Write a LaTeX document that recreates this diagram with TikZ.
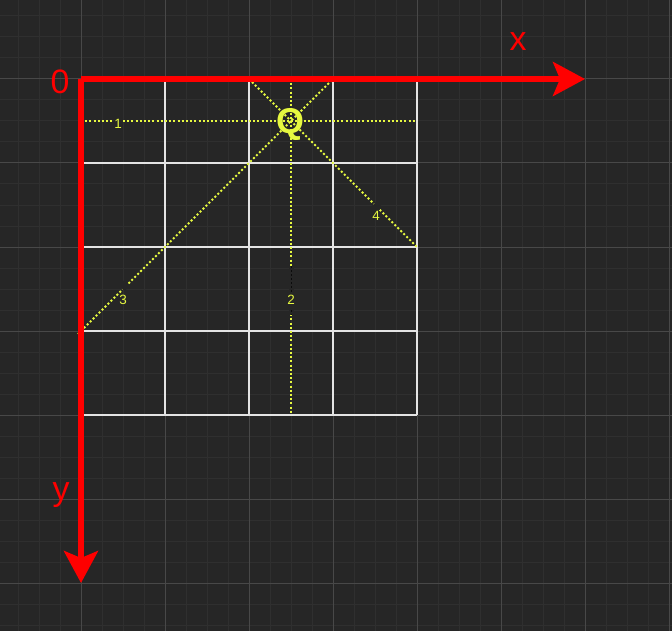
\documentclass[tikz,border=0pt]{standalone}
\usepackage{fontspec}
\setmainfont{Liberation Sans}
\usetikzlibrary{arrows.meta}
\definecolor{bg}{HTML}{262626}
\definecolor{minorg}{HTML}{2F2F2F}
\definecolor{majorg}{HTML}{484848}
\definecolor{cellw}{HTML}{E4E4E4}
\definecolor{axred}{HTML}{FF0000}
\definecolor{ylw}{HTML}{E6F840}
\tikzset{
  minorline/.style={draw=minorg, line width=1bp},
  majorline/.style={draw=majorg, line width=1bp},
  cellline/.style={draw=cellw, line width=2bp},
  axis/.style={draw=axred, line width=5.5bp, -{Stealth[length=32bp, width=34bp, inset=7bp]}},
  axlabel/.style={text=axred, font=\fontsize{34}{34}\selectfont, inner sep=0pt},
  dotline/.style={draw=ylw, line width=2bp, dash pattern=on 2bp off 2.2bp},
  gapnode/.style={fill=bg, inner sep=0pt, minimum size=#1},
  numlabel/.style={text=ylw, font=\fontsize{13.5}{13.5}\selectfont, inner sep=0pt},
}
\begin{document}
\begin{tikzpicture}[x=1bp, y=-1bp]
\fill[bg] (0,0) rectangle (672,631);
\useasboundingbox (0,0) rectangle (672,631);
% minor grid
\foreach \i in {-3,...,28} {
  \draw[minorline] (81+21*\i,0) -- (81+21*\i,631);
  \draw[minorline] (0,79+21*\i) -- (672,79+21*\i);
}
% major grid
\foreach \i in {-1,...,7} {
  \draw[majorline] (81+84*\i,0) -- (81+84*\i,631);
  \draw[majorline] (0,79+84*\i) -- (672,79+84*\i);
}
% white 4x4 grid
\foreach \i in {0,...,4} {
  \draw[cellline] (81+84*\i,79) -- (81+84*\i,415);
  \draw[cellline] (81,79+84*\i) -- (417,79+84*\i);
}
% named points
\coordinate (O) at (81,79);
\coordinate (Xend) at (585,79);
\coordinate (Yend) at (81,583);
\coordinate (Q) at (291,121);
\coordinate (L1a) at (81,121);  \coordinate (L1b) at (417,121);
\coordinate (L2a) at (291,79);  \coordinate (L2b) at (291,415);
\coordinate (L3a) at (78,334);  \coordinate (L3b) at (333,79);
\coordinate (L4a) at (249,79);  \coordinate (L4b) at (417,247);
% Q
\node[text=ylw, font=\fontsize{36}{36}\bfseries\selectfont, inner sep=0pt] (Qlbl) at (290,124.5) {Q};
% yellow dotted lines
\draw[dotline] (L1a) -- (L1b);
\draw[dotline] (L2a) -- (L2b);
\draw[dotline] (L3a) -- (L3b);
\draw[dotline] (L4a) -- (L4b);
% gaps and labels
\node[gapnode=9bp] (g1) at (118,122) {};
\node[numlabel] (n1) at (118,124) {1};
\node[fill=bg, inner sep=0pt, minimum width=5bp, minimum height=48bp] (g2) at (291,290.5) {};
\draw[draw=black!70!bg, line width=1bp, dash pattern=on 2bp off 2bp] (g2.north) -- (g2.south);
\node[fill=bg, inner sep=0pt, minimum width=12bp, minimum height=16bp] (g2b) at (291,300) {};
\node[numlabel] (n2) at (291,300) {2};
\node[gapnode=8bp, rotate=-45] (g3) at (124.5,285.5) {};
\node[numlabel] (n3) at (123,300) {3};
\node[gapnode=8bp, rotate=45] (g4) at (376.5,207) {};
\node[numlabel] (n4) at (376,216) {4};
% axes
\draw[axis] (O) -- (Xend);
\draw[axis] (O) -- (Yend);
\node[axlabel] (lx) at (518,42) {x};
\node[axlabel] (ly) at (61,495) {y};
\node[axlabel] (l0) at (60,82) {0};
\end{tikzpicture}
\end{document}
